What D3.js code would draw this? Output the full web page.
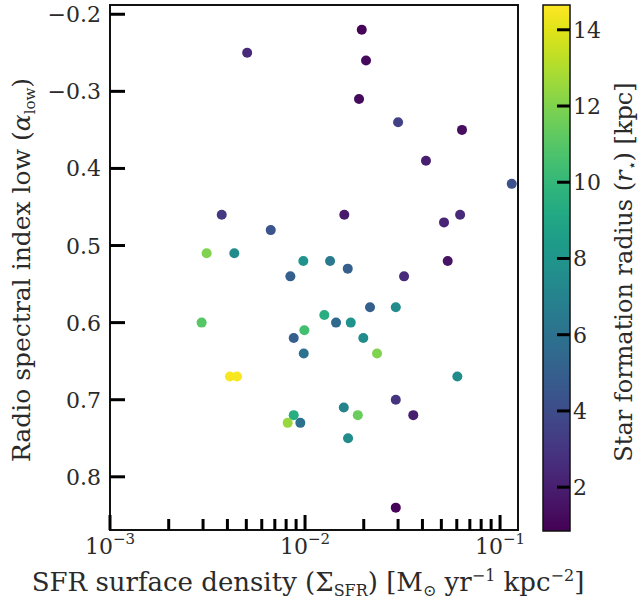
<!DOCTYPE html>
<html><head><meta charset="utf-8">
<script src="https://cdn.jsdelivr.net/npm/d3@7"></script>
<style>body{margin:0;background:#fff}svg{display:block}
svg text{font-family:"DejaVu Serif",serif;}</style>
</head><body><svg id="c" width="643" height="607"></svg>
<script>
// ---- data ----
const sfrDensity = [0.00505,0.01954,0.02055,0.01892,0.0300,0.0638,0.0417,0.1148,0.00374,0.00667,
  0.00313,0.00434,0.0098,0.00841,0.0159,0.0516,0.0624,0.01344,0.01656,0.0539,
  0.0322,0.02154,0.0292,0.01256,0.01442,0.01716,0.0199,0.00992,0.00875,0.00295,
  0.00985,0.0234,0.00412,0.00448,0.00875,0.00815,0.00946,0.0604,0.0292,0.0359,
  0.0158,0.01864,0.01662,0.0292];
const alphaLow = [0.25,0.22,0.26,0.31,0.34,0.35,0.39,0.42,0.46,0.48,
  0.51,0.51,0.52,0.54,0.46,0.47,0.46,0.52,0.53,0.52,
  0.54,0.58,0.58,0.59,0.60,0.60,0.62,0.61,0.62,0.60,
  0.64,0.64,0.67,0.67,0.72,0.73,0.73,0.67,0.70,0.72,
  0.71,0.72,0.75,0.84];
const sfRadius = [2.5,1.0,1.2,1.2,3.5,1.3,2.0,4.3,3.2,4.5,
  12.0,7.5,8.0,5.0,1.8,2.3,2.5,6.5,5.0,1.5,
  2.5,5.0,7.5,9.5,5.5,8.0,7.5,10.5,5.0,11.0,
  6.0,12.0,14.5,14.5,9.5,12.5,6.0,7.5,3.0,2.0,
  7.0,11.5,7.5,1.0];
const yTickValues = [0.2,0.3,0.4,0.5,0.6,0.7,0.8];
const yTickLabels = ["\u22120.2","\u22120.3","0.4","0.5","0.6","0.7","0.8"];
const xMajorTicks = [1e-3,1e-2,1e-1];
const xMajorExps = ["\u22123","\u22122","\u22121"];
const cbTicks = [2,4,6,8,10,12,14];

// ---- layout ----
const svg = d3.select("#c");
const P = {l:110, r:518, t:5, b:530};
const CB = {l:543, r:570, t:5, b:531};
const TXT = "#2a2a2a";

const x = d3.scaleLog().domain([1e-3, 0.1236]).range([P.l, P.r]);
const y = d3.scaleLinear().domain([0.188, 0.869]).range([P.t, P.b]);
const c = d3.scaleSequential(d3.interpolateViridis).domain([0.85, 14.65]);
const cy = d3.scaleLinear().domain([0.85, 14.65]).range([CB.b, CB.t]);

// points
svg.append("g").selectAll("circle").data(sfrDensity.map((v,i)=>({x:v,y:alphaLow[i],c:sfRadius[i]})))
  .join("circle")
  .attr("cx", d=>x(d.x)).attr("cy", d=>y(d.y)).attr("r", 5)
  .attr("fill", d=>c(d.c));

// frame
svg.append("rect").attr("x",P.l).attr("y",P.t).attr("width",P.r-P.l).attr("height",P.b-P.t)
  .attr("fill","none").attr("stroke","#111").attr("stroke-width",2);

// y axis ticks (inward)
const gy = svg.append("g");
gy.selectAll("line").data(yTickValues).join("line")
  .attr("x1",P.l).attr("x2",P.l+15).attr("y1",d=>y(d)).attr("y2",d=>y(d))
  .attr("stroke","#000").attr("stroke-width",3);
gy.selectAll("text").data(yTickValues).join("text")
  .attr("x",P.l-9).attr("y",d=>y(d)+8).attr("text-anchor","end")
  .attr("font-size",22).attr("fill",TXT)
  .text((d,i)=>yTickLabels[i]);

// x axis ticks
const minor = [];
[1e-3,1e-2].forEach(dec=>{for(let k=2;k<=9;k++) minor.push(k*dec);});
const gx = svg.append("g");
gx.selectAll("line.mi").data(minor).join("line").attr("class","mi")
  .attr("x1",d=>x(d)).attr("x2",d=>x(d)).attr("y1",P.b).attr("y2",P.b-11)
  .attr("stroke","#000").attr("stroke-width",3);
gx.selectAll("line.ma").data(xMajorTicks).join("line").attr("class","ma")
  .attr("x1",d=>x(d)).attr("x2",d=>x(d)).attr("y1",P.b).attr("y2",P.b-15)
  .attr("stroke","#000").attr("stroke-width",3);
const xl = gx.selectAll("text").data(xMajorTicks).join("text")
  .attr("x",d=>x(d)).attr("y",P.b+24).attr("text-anchor","middle")
  .attr("font-size",22).attr("fill",TXT);
xl.append("tspan").text("10");
xl.append("tspan").attr("dy",-10).attr("font-size",15).text((d,i)=>xMajorExps[i]);

// x label
const xlab = svg.append("text").attr("x",308).attr("y",591).attr("text-anchor","middle")
  .attr("font-size",26).attr("fill",TXT);
xlab.append("tspan").text("SFR surface density (\u03A3");
xlab.append("tspan").attr("font-size",16).attr("dy",5).text("SFR");
xlab.append("tspan").attr("dy",-5).text(") [M");
xlab.append("tspan").attr("font-size",16).attr("dy",5).text("\u2299");
xlab.append("tspan").attr("dy",-5).text(" yr");
xlab.append("tspan").attr("font-size",16).attr("dy",-10).text("\u22121");
xlab.append("tspan").attr("dy",10).text(" kpc");
xlab.append("tspan").attr("font-size",16).attr("dy",-10).text("\u22122");
xlab.append("tspan").attr("dy",10).text("]");

// y label
const ylab = svg.append("text").attr("transform","translate(30,270) rotate(-90)")
  .attr("text-anchor","middle").attr("font-size",25).attr("fill",TXT);
ylab.append("tspan").text("Radio spectral index low (");
ylab.append("tspan").attr("font-style","italic").text("\u03B1");
ylab.append("tspan").attr("font-size",15).attr("dy",5).text("low");
ylab.append("tspan").attr("dy",-5).text(")");

// colorbar
const defs = svg.append("defs");
const grad = defs.append("linearGradient").attr("id","vir").attr("x1",0).attr("y1",1).attr("x2",0).attr("y2",0);
d3.range(0,1.0001,0.05).forEach(t=>grad.append("stop").attr("offset",t).attr("stop-color",d3.interpolateViridis(t)));
svg.append("rect").attr("x",CB.l).attr("y",CB.t).attr("width",CB.r-CB.l).attr("height",CB.b-CB.t)
  .attr("fill","url(#vir)").attr("stroke","#111").attr("stroke-width",1.5);
const gc = svg.append("g");
gc.selectAll("line").data(cbTicks).join("line")
  .attr("x1",CB.r-13).attr("x2",CB.r).attr("y1",d=>cy(d)).attr("y2",d=>cy(d))
  .attr("stroke","#000").attr("stroke-width",3);
gc.selectAll("text").data(cbTicks).join("text")
  .attr("x",CB.r+3).attr("y",d=>cy(d)+8).attr("font-size",22).attr("fill",TXT)
  .text(d=>d);

// colorbar label
const clab = svg.append("text").attr("transform","translate(632,272) rotate(-90)")
  .attr("text-anchor","middle").attr("font-size",24).attr("fill",TXT);
clab.append("tspan").text("Star formation radius (");
clab.append("tspan").attr("font-style","italic").text("r");
clab.append("tspan").attr("font-size",15).attr("dy",5).text("\u22C6");
clab.append("tspan").attr("dy",-5).text(") [kpc]");
</script>
</body></html>
